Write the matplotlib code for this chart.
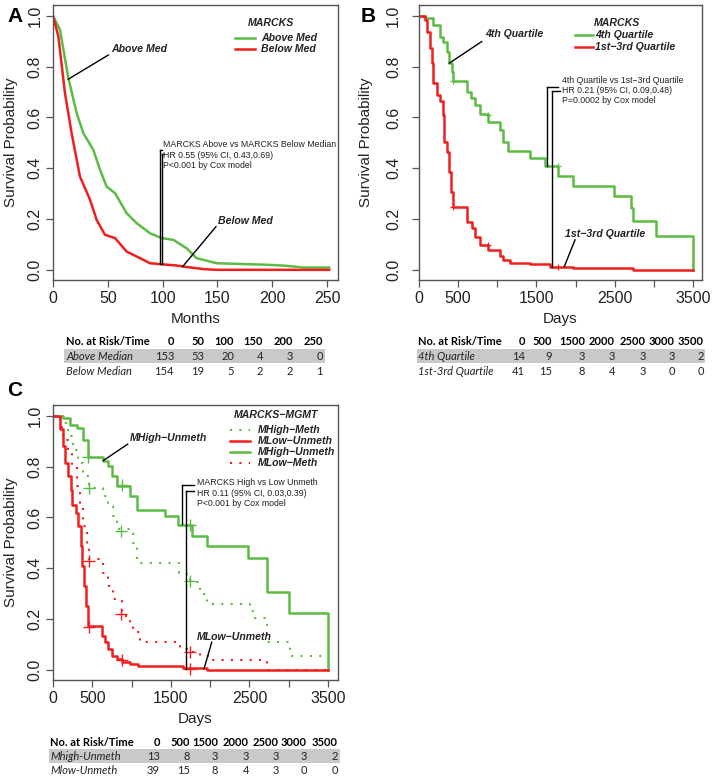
import matplotlib
matplotlib.use("Agg")
import matplotlib.pyplot as plt
from matplotlib import font_manager
from matplotlib.patches import Rectangle
from matplotlib.lines import Line2D

names = {f.name for f in font_manager.fontManager.ttflist}
SANS = 'Liberation Sans' if 'Liberation Sans' in names else 'DejaVu Sans'
NARROW = SANS
TABF = 'Lato' if 'Lato' in names else 'DejaVu Sans'

GREEN = '#5cbb44'
RED = '#f21d1d'

# ---------------- Data ----------------
# Panel A (months)
a_hi_t = [0, 6.4, 14, 21.6, 27.7, 36.8, 42.9, 48.9, 56.6, 67.2, 76.3, 88.5, 99.2, 109.8, 121.9, 131, 149.3, 195, 213, 228.4, 252]
a_hi_s = [1.0, 0.945, 0.755, 0.617, 0.538, 0.472, 0.394, 0.328, 0.302, 0.223, 0.184, 0.144, 0.125, 0.118, 0.085, 0.046, 0.026, 0.020, 0.016, 0.009, 0.009]
a_lo_t = [0, 4.9, 10.9, 17, 24.6, 33.8, 39.8, 47.4, 56.6, 67.2, 79.4, 88.5, 99.2, 113, 122, 137, 149, 252]
a_lo_s = [1.0, 0.919, 0.696, 0.538, 0.367, 0.276, 0.197, 0.138, 0.125, 0.072, 0.046, 0.026, 0.022, 0.017, 0.011, 0.003, 0.0, 0.0]

# Panel B (days)
b_hi_t = [0, 77, 183, 268, 311, 354, 388, 418, 439, 609, 665, 720, 779, 885, 1035, 1077, 1141, 1418, 1609, 1779, 1971, 2491, 2704, 2730, 3027, 3504]
b_hi_s = [1.0, 0.99, 0.965, 0.918, 0.899, 0.859, 0.814, 0.781, 0.744, 0.702, 0.676, 0.65, 0.613, 0.584, 0.551, 0.505, 0.468, 0.44, 0.407, 0.371, 0.331, 0.289, 0.245, 0.193, 0.134, 0.0]
b_lo_t = [0, 77, 98, 140, 162, 183, 226, 268, 302, 323, 354, 383, 409, 439, 609, 673, 715, 779, 880, 1035, 1077, 1162, 1418, 1673, 1971, 2730, 3504]
b_lo_s = [1.0, 0.984, 0.938, 0.873, 0.814, 0.735, 0.689, 0.663, 0.610, 0.505, 0.466, 0.387, 0.308, 0.247, 0.19, 0.164, 0.131, 0.098, 0.079, 0.055, 0.039, 0.026, 0.022, 0.013, 0.007, 0.0, 0.0]
b_hi_cens_t = [439, 885, 1780]
b_hi_cens_s = [0.744, 0.61, 0.407]
b_lo_cens_t = [439, 885, 1780]
b_lo_cens_s = [0.247, 0.098, 0.013]

# Panel C (days)
c_hu_t = [0, 131, 216, 301, 386, 450, 640, 704, 747, 810, 980, 1073, 1425, 1595, 1765, 1956, 2486, 2720, 3008, 3504]
c_hu_s = [1.0, 0.991, 0.965, 0.952, 0.906, 0.84, 0.821, 0.801, 0.762, 0.723, 0.684, 0.631, 0.605, 0.569, 0.529, 0.488, 0.439, 0.307, 0.222, 0.0]
c_lu_t = [0, 90, 131, 153, 195, 225, 238, 293, 322, 352, 373, 395, 420, 450, 619, 662, 704, 747, 810, 874, 980, 1086, 1659, 1956, 3504]
c_lu_s = [1.0, 0.948, 0.88, 0.814, 0.762, 0.71, 0.651, 0.618, 0.566, 0.488, 0.409, 0.331, 0.252, 0.174, 0.135, 0.109, 0.082, 0.056, 0.043, 0.03, 0.024, 0.017, 0.007, 0.0, 0.0]
c_hm_t = [0, 131, 195, 259, 322, 386, 462, 640, 704, 768, 810, 980, 1022, 1073, 1600, 1680, 1743, 1871, 1956, 2507, 2550, 2720, 3016, 3504]
c_hm_s = [1.0, 0.971, 0.919, 0.867, 0.814, 0.762, 0.716, 0.684, 0.644, 0.605, 0.553, 0.540, 0.501, 0.422, 0.383, 0.376, 0.344, 0.298, 0.259, 0.233, 0.206, 0.109, 0.056, 0.056]
c_lm_t = [0, 89, 131, 195, 238, 301, 343, 386, 428, 462, 640, 704, 768, 874, 980, 1022, 1107, 1616, 1743, 1871, 2040, 2720, 3504]
c_lm_s = [1.0, 0.958, 0.906, 0.854, 0.801, 0.723, 0.644, 0.566, 0.488, 0.435, 0.383, 0.331, 0.278, 0.213, 0.174, 0.148, 0.109, 0.082, 0.069, 0.056, 0.037, 0.0, 0.0]
c_hu_cens = ([450, 874, 1743], [0.84, 0.729, 0.569])
c_hm_cens = ([462, 862, 1743], [0.716, 0.546, 0.35])
c_lu_cens = ([462, 874, 1743], [0.17, 0.04, 0.003])
c_lm_cens = ([462, 862, 1743], [0.43, 0.22, 0.07])

# Tables
tab_a_times = ['0', '50', '100', '150', '200', '250']
tab_a_rows = ['Above Median', 'Below Median']
tab_a_vals = [[153, 53, 20, 4, 3, 0], [154, 19, 5, 2, 2, 1]]
tab_b_times = ['0', '500', '1500', '2000', '2500', '3000', '3500']
tab_b_rows = ['4th Quartile', '1st-3rd Quartile']
tab_b_vals = [[14, 9, 3, 3, 3, 3, 2], [41, 15, 8, 4, 3, 0, 0]]
tab_c_times = ['0', '500', '1500', '2000', '2500', '3000', '3500']
tab_c_rows = ['Mhigh-Unmeth', 'Mlow-Unmeth']
tab_c_vals = [[13, 8, 3, 3, 3, 3, 2], [39, 15, 8, 4, 3, 0, 0]]

# ---------------- Figure ----------------
W, H = 714, 779
fig = plt.figure(figsize=(W / 100, H / 100), dpi=100)

TICK_FS = 11.5
LAB_FS = 11
LEG_FS = 7.6
ANN_FS = 6.3


def px_axes(l, r, t, b):
    return fig.add_axes([l / W, 1 - b / H, (r - l) / W, (b - t) / H])


def fx(x):
    return x / W


def fy(y):
    return 1 - y / H


def style_axes(ax, xlim, xticks, xlabels, xlabel, ypad, ylabx, xlabely):
    ax.set_xlim(*xlim)
    ax.set_ylim(-0.04, 1.043)
    for sp in ax.spines.values():
        sp.set_color('#555555')
        sp.set_linewidth(1.0)
    ax.set_xticks(xticks)
    ax.set_xticklabels(xlabels, fontfamily=NARROW, fontsize=TICK_FS, color='#222222')
    ax.set_yticks([0, 0.2, 0.4, 0.6, 0.8, 1.0])
    ax.set_yticklabels(['0.0', '0.2', '0.4', '0.6', '0.8', '1.0'], fontfamily=NARROW,
                       fontsize=TICK_FS, rotation=90, va='center', color='#222222')
    ax.tick_params(axis='x', length=5, width=0.9, color='#555555', pad=3)
    ax.tick_params(axis='y', length=5, width=0.9, color='#555555', pad=ypad)
    ax.set_xlabel(xlabel, fontfamily=NARROW, fontsize=LAB_FS, color='#222222')
    ax.xaxis.set_label_coords(0.5, xlabely)
    ax.set_ylabel('Survival Probability', fontfamily=NARROW, fontsize=LAB_FS, color='#222222')
    ax.yaxis.set_label_coords(ylabx, 0.5)


def legend(ax, title, tx, ty, lx0, lx1, txt_x, ys, labels, colors, styles):
    ax.text(tx, ty, title, transform=ax.transAxes, ha='center', va='center',
            fontfamily=NARROW, fontsize=LEG_FS, fontweight='bold', fontstyle='italic', color='#222222')
    for y, lab, c, st in zip(ys, labels, colors, styles):
        ax.add_line(Line2D([lx0, lx1], [y, y], transform=ax.transAxes, color=c,
                           lw=1.8 if st == '-' else 1.5, ls=st))
        ax.text(txt_x, y, lab, transform=ax.transAxes, ha='left', va='center',
                fontfamily=NARROW, fontsize=LEG_FS, fontweight='bold', fontstyle='italic', color='#222222')


def annot_text(ax, x, y, lines):
    for ln in lines:
        ax.text(x, y, ln, ha='left', va='center', fontfamily=NARROW, fontsize=ANN_FS,
                color='#222222', transform=ax.transData)
        y -= 0.04


def label_arrow(ax, text, tx, ty, x0, y0, x1, y1):
    ax.text(tx, ty, text, ha='left', va='center', fontfamily=NARROW, fontsize=LEG_FS,
            fontweight='bold', fontstyle='italic', color='#222222')
    ax.plot([x0, x1], [y0, y1], color='black', lw=1.0)


DOT = (0, (1, 3.5))

# ---- Panel A ----
axA = px_axes(53, 338, 5, 280)
axA.plot(a_hi_t, a_hi_s, color=GREEN, lw=1.8)
axA.plot(a_lo_t, a_lo_s, color=RED, lw=1.8)
style_axes(axA, (0, 260), [0, 50, 100, 150, 200, 250], ['0', '50', '100', '150', '200', '250'],
           'Months', 2.5, -0.122, -0.117)
legend(axA, 'MARCKS', 0.765, 0.935, 0.639, 0.709, 0.730, [0.88, 0.84],
       ['Above Med', 'Below Med'], [GREEN, RED], ['-', '-'])
annot_text(axA, 100.3, 0.492, ['MARCKS Above vs MARCKS Below Median', 'HR 0.55 (95% CI, 0.43,0.69)',
                               'P<0.001 by Cox model'])
axA.plot([97.4, 97.4], [0.472, 0.022], color='black', lw=1.0)
axA.plot([97.4, 99.0], [0.472, 0.472], color='black', lw=1.0)
axA.plot([99.0, 99.0], [0.457, 0.022], color='black', lw=1.0)
axA.plot([99.0, 100.3], [0.457, 0.457], color='black', lw=1.0)
label_arrow(axA, 'Above Med', 52.9, 0.87, 50.5, 0.846, 14, 0.751)
label_arrow(axA, 'Below Med', 150.5, 0.194, 148.7, 0.170, 118.3, 0.013)

# ---- Panel B ----
axB = px_axes(419, 702, 5, 280)
axB.plot(b_hi_t, b_hi_s, color=GREEN, lw=1.8, drawstyle='steps-post')
axB.plot(b_lo_t, b_lo_s, color=RED, lw=1.8, drawstyle='steps-post')
axB.plot(b_hi_cens_t, b_hi_cens_s, ls='none', marker='+', ms=5, mew=0.9, color=GREEN)
axB.plot(b_lo_cens_t, b_lo_cens_s, ls='none', marker='+', ms=5, mew=0.9, color=RED)
style_axes(axB, (0, 3615), [0, 500, 1000, 1500, 2000, 2500, 3000, 3500],
           ['0', '500', '', '1500', '', '2500', '', '3500'], 'Days', 8, -0.163, -0.117)
legend(axB, 'MARCKS', 0.70, 0.936, 0.551, 0.615, 0.622, [0.891, 0.848],
       ['4th Quartile', '1st\u22123rd Quartile'], [GREEN, RED], ['-', '-'])
annot_text(axB, 1830, 0.745, ['4th Quartile vs 1st\u22123rd Quartile', 'HR 0.21 (95% CI, 0.09,0.48)',
                              'P=0.0002 by Cox model'])
axB.plot([1639, 1639], [0.719, 0.407], color='black', lw=1.0)
axB.plot([1639, 1780], [0.719, 0.719], color='black', lw=1.0)
axB.plot([1695, 1695], [0.706, 0.013], color='black', lw=1.0)
axB.plot([1695, 1800], [0.706, 0.706], color='black', lw=1.0)
label_arrow(axB, '4th Quartile', 843, 0.928, 801, 0.899, 387, 0.814)
label_arrow(axB, '1st\u22123rd Quartile', 1865, 0.140, 1993, 0.118, 1856, 0.013)

# ---- Panel C ----
axC = px_axes(53, 338, 405, 680)
axC.plot(c_hm_t, c_hm_s, color=GREEN, lw=1.5, ls=DOT, drawstyle='steps-post')
axC.plot(c_lm_t, c_lm_s, color=RED, lw=1.5, ls=DOT, drawstyle='steps-post')
axC.plot(c_hu_t, c_hu_s, color=GREEN, lw=1.8, drawstyle='steps-post')
axC.plot(c_lu_t, c_lu_s, color=RED, lw=1.8, drawstyle='steps-post')
for (ct, cs), col in [(c_hu_cens, GREEN), (c_hm_cens, GREEN), (c_lu_cens, RED), (c_lm_cens, RED)]:
    axC.plot(ct, cs, ls='none', marker='+', ms=8, mew=1.0, color=col)
style_axes(axC, (0, 3627), [0, 500, 1000, 1500, 2000, 2500, 3000, 3500],
           ['0', '500', '', '1500', '', '2500', '', '3500'], 'Days', 2.5, -0.122, -0.117)
legend(axC, 'MARCKS\u2212MGMT', 0.782, 0.964, 0.621, 0.691, 0.719, [0.909, 0.869, 0.828, 0.790],
       ['MHigh\u2212Meth', 'MLow\u2212Unmeth', 'MHigh\u2212Unmeth', 'MLow\u2212Meth'],
       [GREEN, RED, GREEN, RED], [DOT, '-', '-', DOT])
annot_text(axC, 1829, 0.736, ['MARCKS High vs Low Unmeth', 'HR 0.11 (95% CI, 0.03,0.39)',
                              'P<0.001 by Cox model'])
axC.plot([1638, 1638], [0.727, 0.573], color='black', lw=1.0)
axC.plot([1638, 1790], [0.727, 0.727], color='black', lw=1.0)
axC.plot([1689, 1689], [0.703, 0.004], color='black', lw=1.0)
axC.plot([1689, 1800], [0.703, 0.703], color='black', lw=1.0)
label_arrow(axC, 'MHigh\u2212Unmeth', 980, 0.915, 951, 0.889, 640, 0.824)
label_arrow(axC, 'MLow\u2212Unmeth', 1829, 0.131, 2020, 0.109, 1922, 0.004)

# ---- Panel letters ----
for letter, x, y in [('A', 7, 16), ('B', 361, 16), ('C', 7, 391)]:
    fig.text(fx(x), fy(y), letter, ha='left', va='center', fontfamily=SANS, fontsize=15,
             fontweight='bold')

# ---- Tables ----
TAB_FS = 8


def table(label_x, col_right, band_x0, band_x1, hy, ry, band_y0, band_y1, times, rows, vals):
    fig.patches.append(Rectangle((fx(band_x0), fy(band_y1)), (band_x1 - band_x0) / W,
                                 (band_y1 - band_y0) / H, transform=fig.transFigure,
                                 facecolor='#c9c9c9', edgecolor='none', zorder=0))
    fig.text(fx(label_x), fy(hy), 'No. at Risk/Time', ha='left', va='center', fontfamily=TABF,
             fontsize=TAB_FS, fontweight='bold')
    for xr, t in zip(col_right, times):
        fig.text(fx(xr), fy(hy), t, ha='right', va='center', fontfamily=TABF, fontsize=TAB_FS,
                 fontweight='bold')
    for y, name, vv in zip(ry, rows, vals):
        fig.text(fx(label_x), fy(y), name, ha='left', va='center', fontfamily=TABF,
                 fontsize=TAB_FS, fontstyle='italic', color='#222222')
        for xr, v in zip(col_right, vv):
            fig.text(fx(xr), fy(y), str(v), ha='right', va='center', fontfamily=TABF,
                     fontsize=TAB_FS, color='#222222')


table(66, [174, 204, 234, 263, 293, 323], 64, 325, 342, [357, 371], 349, 363,
      tab_a_times, tab_a_rows, tab_a_vals)
table(418, [525, 552, 585, 615, 646, 675, 704], 417, 705, 342, [357, 371], 349, 363,
      tab_b_times, tab_b_rows, tab_b_vals)
table(50, [160, 190, 218, 249, 279, 307, 338], 49, 340, 743, [757, 771], 749, 763,
      tab_c_times, tab_c_rows, tab_c_vals)

fig.savefig('out.png', dpi=100)
